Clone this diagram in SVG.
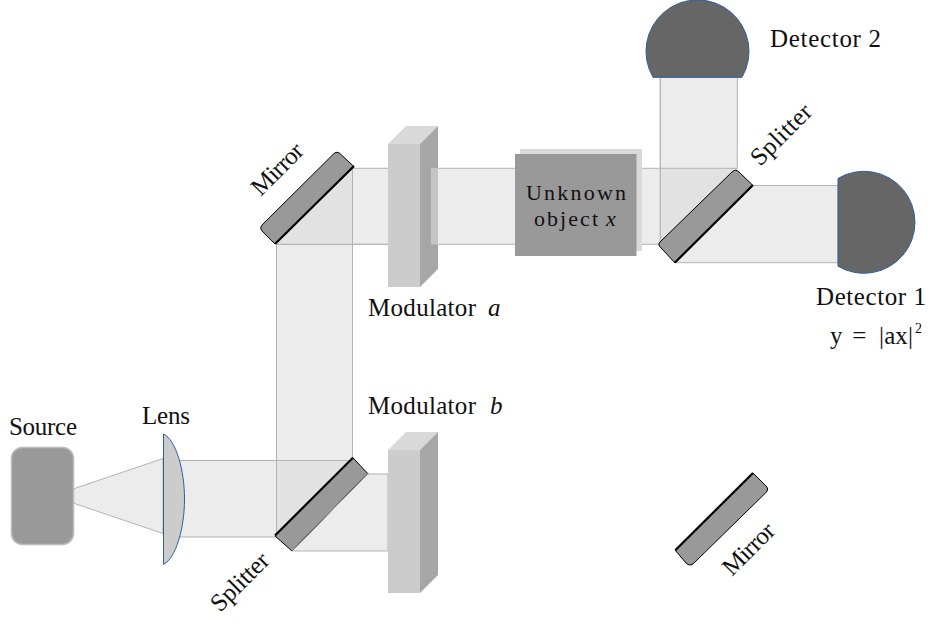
<svg xmlns="http://www.w3.org/2000/svg" width="936" height="631" viewBox="0 0 936 631">
<style>
text{font-family:"Liberation Serif","Times New Roman",serif;font-size:25px;fill:#111;font-variant-ligatures:none}
.i{font-style:italic}
.obj{font-size:22px}
.beam{fill:#ececec;stroke:#b3b3b3;stroke-width:1}
.edge{fill:none;stroke:#b3b3b3;stroke-width:1}
.over{fill:#e2e2e2}
.body{fill:#999;stroke:#000;stroke-width:1}
.coat{fill:none;stroke:#000;stroke-width:2.2}
.front{fill:#ccc}.top{fill:#d9d9d9}.side{fill:#a6a6a6}
.det{fill:#666;stroke:#2f5f9f;stroke-width:1}
</style>
<rect width="936" height="631" fill="#fff"/>
<g id="connectors">
<path class="beam" d="M73 489L163 458.500V533.500L73 503Z"/>
<path class="beam" d="M170 460.500H352.500L276.500 537H170Z"/>
<path class="beam" d="M276.500 244.300H352.500V460.500L276.500 537Z"/>
<path class="beam" d="M352 474H388V551H292Z"/>
<path class="beam" d="M354 168.300H737.300L660.300 244.300H275Z"/>
<path class="beam" d="M660.300 77.300H737.300V168.300L660.300 245Z"/>
<path class="beam" d="M753 185.500H838V262.700H675Z"/>
<path class="over" d="M277 460.500H352.500L277 536.500Z"/>
<path class="over" d="M275.500 244H352.500V168.500Z"/>
<path class="over" d="M660.500 168.500H737L660.500 245Z"/>
<path class="edge" d="M276.500 244V537M352.500 168.300V460.500M276.500 460.500H352.500M275 244.300H388M660.300 77.300V245M660.300 168.300H737.300"/>
</g>
<g id="source"><rect x="11.500" y="447.500" width="62" height="97" rx="11" fill="#999" stroke="#bbb" stroke-width="1.500"/><text x="9" y="435" textLength="68">Source</text></g>
<g id="lens"><path d="M163.500 434C176 440 184.500 470 184.500 499C184.500 528 176 558 163.500 564.500Z" fill="#ccc" stroke="#2f5f9f" stroke-width="1"/><text x="142" y="424" textLength="48">Lens</text></g>
<g id="splitter-1"><path class="body" d="M275 536L352.700 457.500L367.700 473.500L292 551Z"/><path d="M292 551L367.700 473.500" fill="none" stroke="#888" stroke-width="1"/><path class="coat" d="M275 535.500L352.700 458"/><text transform="translate(220 613) rotate(-45)" textLength="72">Splitter</text></g>
<g id="mirror-1"><path class="body" d="M275 244L263 232Q258.500 228 263 224L333 154.500Q337 150 341 154.500L354 166.700Z"/><path class="coat" d="M275.500 243.500L354 166"/><text transform="translate(260.700 197) rotate(-45)" textLength="63">Mirror</text></g>
<g id="modulator-b"><rect class="front" x="388" y="450" width="32" height="143"/><path class="top" d="M388 450L406 432H438L420 450Z"/><path class="side" d="M420 450L438 432V575L420 593Z"/><text x="368" y="414" textLength="108">Modulator</text><text class="i" x="490" y="414">b</text></g>
<g id="modulator-a"><rect class="front" x="388" y="144" width="32" height="143"/><path class="top" d="M388 144L406 126H438L420 144Z"/><path class="side" d="M420 144L438 126V269L420 287Z"/><rect x="431" y="168" width="8" height="76.500" fill="#ececec" fill-opacity=".45"/><text x="368" y="316" textLength="108">Modulator</text><text class="i" x="488" y="316">a</text></g>
<g id="object"><rect x="520" y="149" width="122" height="102" fill="#d9d9d9"/><rect x="515" y="154" width="121.500" height="102" fill="#999"/><text class="obj" x="526" y="200" textLength="100">Unknown</text><text class="obj" x="534" y="226" textLength="64">object</text><text class="obj i" x="606" y="226">x</text></g>
<g id="splitter-2"><path class="body" d="M659.300 246Q658 244 660 242L732 172Q735.500 168.500 739 172L753 185.500L675 263Z"/><path class="coat" d="M675 262.500L753 185"/><text transform="translate(760 167) rotate(-45)" textLength="76">Splitter</text></g>
<g id="detector-1"><path class="det" d="M838 178.400A51 51 0 1 1 838 266.200Z"/><text x="816" y="305" textLength="110">Detector 1</text><text y="344"><tspan x="830">y</tspan><tspan x="846"> = </tspan><tspan x="879" textLength="34">|ax|</tspan></text><text x="915" y="333" style="font-size:14px">2</text></g>
<g id="detector-2"><path class="det" d="M653 77.300A51.500 51.500 0 1 1 742 77.300Z"/><text x="770" y="47" textLength="111">Detector 2</text></g>
<g id="mirror-2"><path class="body" d="M675 550L753 473L765 485Q770 489 765.500 493L694 563Q690 567 686 563Z"/><path class="coat" d="M675.500 550L753 473"/><text transform="translate(732 577) rotate(-45)" textLength="63">Mirror</text></g>
</svg>
